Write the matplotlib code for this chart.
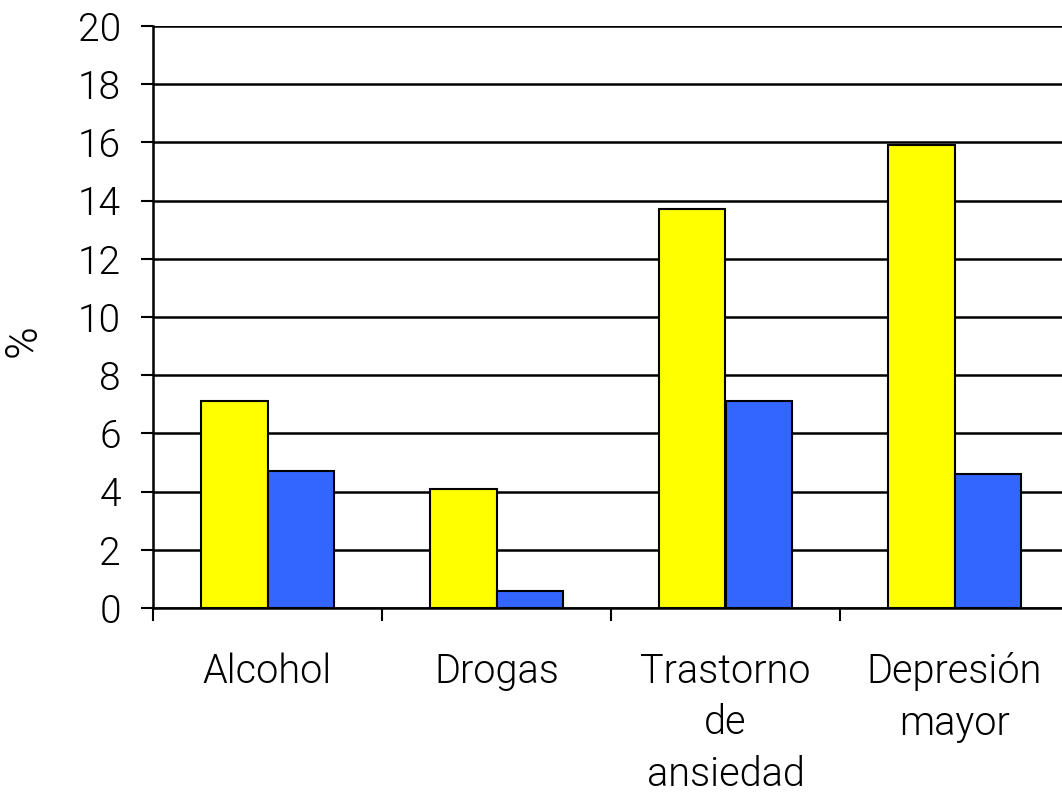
import numpy as np
import matplotlib
matplotlib.use('Agg')
import matplotlib.pyplot as plt

categories = ['Alcohol', 'Drogas', 'Trastorno\nde\nansiedad', 'Depresión\nmayor']
serie_amarilla = [7.1, 4.1, 13.7, 15.9]
serie_azul = [4.7, 0.6, 7.1, 4.6]
yticks = np.arange(0, 21, 2)

plt.rcParams['font.family'] = ['Roboto', 'DejaVu Sans']
plt.rcParams['font.weight'] = 300

fig = plt.figure(figsize=(10.62, 7.97), dpi=100)
ax = fig.add_axes([153/1062, 189/797, 916/1062, 582/797])

x = np.arange(len(categories))
w = 0.29
ax.bar(x - w/2, serie_amarilla, w, color='#FFFF00', edgecolor='black', linewidth=1.5, zorder=3)
ax.bar(x + w/2, serie_azul, w, color='#3366FF', edgecolor='black', linewidth=1.5, zorder=3)

ax.set_xlim(-0.5, len(categories) - 0.5)
ax.set_ylim(0, 20)
ax.set_yticks(yticks)
ax.set_yticklabels([str(v) for v in yticks], fontsize=28)
ax.yaxis.grid(True, color='black', linewidth=1.8, zorder=0)
ax.set_axisbelow(True)

ax.set_xticks(np.arange(len(categories) + 1) - 0.5)
ax.set_xticklabels([])
ax.set_xticks(x, minor=True)
ax.set_xticklabels(categories, minor=True, fontsize=28.5, linespacing=1.42)
ax.tick_params(axis='x', which='minor', length=0, pad=32)
ax.tick_params(axis='x', which='major', length=9, width=1.5, direction='out')
ax.tick_params(axis='y', length=9, width=1.5, direction='out', pad=14)

for s in ['top', 'right']:
    ax.spines[s].set_visible(False)
ax.spines['left'].set_linewidth(1.8)
ax.spines['bottom'].set_linewidth(1.8)

ax.set_ylabel('%', fontsize=32, fontweight=300)
ax.yaxis.set_label_coords(-0.118, 0.46)

plt.savefig('out.png', dpi=100)
